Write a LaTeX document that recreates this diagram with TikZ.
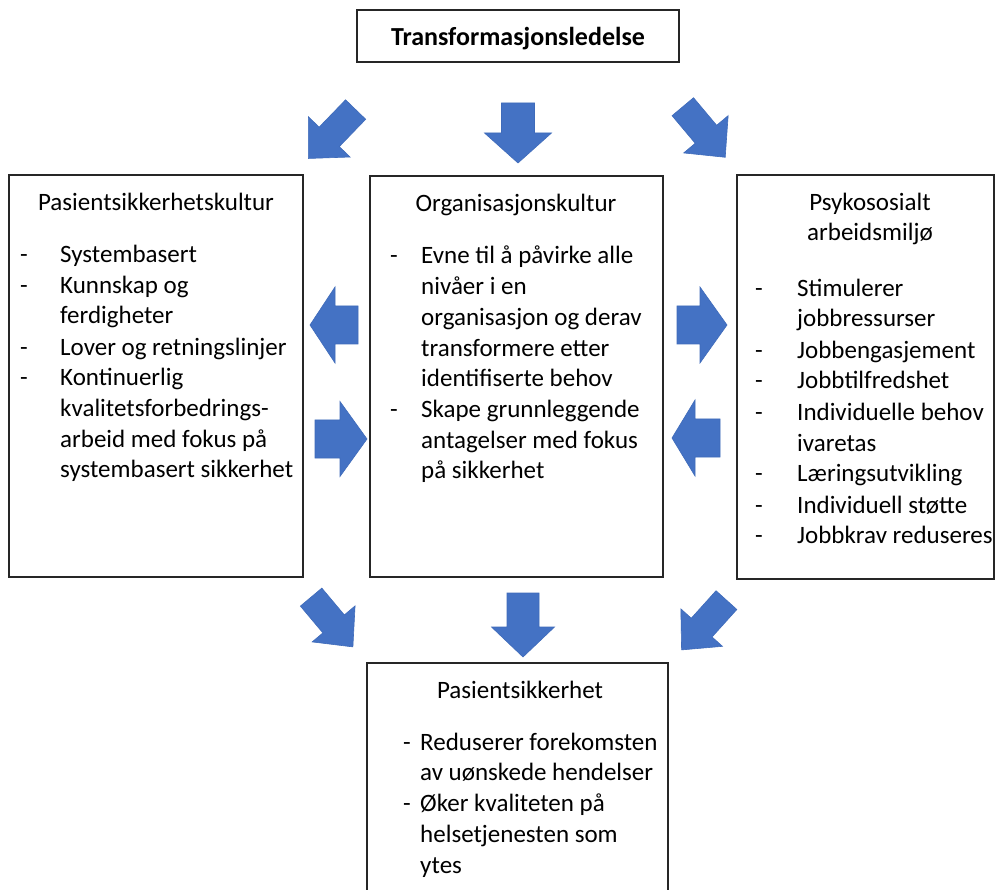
\documentclass[tikz,border=0pt]{standalone}
\usepackage{fontspec}
\setmainfont{Carlito}
\definecolor{arrowblue}{HTML}{4472C4}
\definecolor{arrowedge}{HTML}{3F6BBA}
\tikzset{
  box/.style={draw=black!85, line width=1.1pt},
  txt/.style={anchor=mid west, inner sep=0pt, yshift=-6pt, font=\fontsize{25}{31}\selectfont},
  headtxt/.style={anchor=mid, inner sep=0pt, yshift=-6pt, font=\fontsize{25}{31}\selectfont},
  titletxt/.style={anchor=mid, inner sep=0pt, yshift=-6pt, font=\fontsize{26}{31}\selectfont\bfseries},
  barrow/.style={fill=arrowblue, draw=arrowedge, line width=0.6pt}
}
% #1 cx, #2 cy, #3 angle, #4 length, #5 shaft width, #6 head width, #7 head length
\newcommand\blockarrow[7]{%
  \begin{scope}[shift={(#1,#2)}, rotate=#3]
    \path[barrow] ({-#4/2},{#5/2}) -- ({#4/2-#7},{#5/2}) -- ({#4/2-#7},{#6/2})
      -- ({#4/2},0) -- ({#4/2-#7},{-#6/2}) -- ({#4/2-#7},{-#5/2})
      -- ({-#4/2},{-#5/2}) -- cycle;
  \end{scope}}
\newcommand\tline[4]{\node[txt] (#1) at (#2,#3) {#4};}
\begin{document}
\begin{tikzpicture}[x=1pt,y=-1pt]
\useasboundingbox (0,0) rectangle (996,890);
\clip (0,0) rectangle (996,890);
\fill[white] (0,0) rectangle (996,890);

% boxes
\node[box, minimum width=322pt, minimum height=52pt, inner sep=0pt] (title) at (518,36) {};
\node[titletxt] (titlet) at (518,37) {Transformasjonsledelse};

\draw[box] (9,175) rectangle (303,577);
\node (lbox) at (156,376) {};
\draw[box] (370,176) rectangle (663,577);
\node (mbox) at (516,376) {};
\draw[box] (737,175) rectangle (994,579);
\node (rbox) at (865,377) {};
\draw[box] (367,663) rectangle (668,905);
\node (bbox) at (517,780) {};

% left box text
\node[headtxt] (lh) at (156,202) {Pasientsikkerhetskultur};
\node[txt] (l1d) at (20,254) {-};
\tline{l1}{60}{254}{Systembasert}
\node[txt] (l2d) at (20,285) {-};
\tline{l2}{60}{285}{Kunnskap og}
\tline{l3}{60}{315}{ferdigheter}
\node[txt] (l4d) at (20,347) {-};
\tline{l4}{60}{347}{Lover og retningslinjer}
\node[txt] (l5d) at (20,377) {-};
\tline{l5}{60}{377}{Kontinuerlig}
\tline{l6}{60}{408}{kvalitetsforbedrings-}
\tline{l7}{60}{439}{arbeid med fokus på}
\tline{l8}{60}{469}{systembasert sikkerhet}

% middle box text
\node[headtxt] (mh) at (516,203) {Organisasjonskultur};
\node[txt] (m1d) at (390,255) {-};
\tline{m1}{421}{255}{Evne til å påvirke alle}
\tline{m2}{421}{286}{nivåer i en}
\tline{m3}{421}{317}{organisasjon og derav}
\tline{m4}{421}{348}{transformere etter}
\tline{m5}{421}{378}{identifiserte behov}
\node[txt] (m6d) at (390,409) {-};
\tline{m6}{421}{409}{Skape grunnleggende}
\tline{m7}{421}{440}{antagelser med fokus}
\tline{m8}{421}{470}{på sikkerhet}

% right box text
\node[headtxt] (rh1) at (870,202) {Psykososialt};
\node[headtxt] (rh2) at (870,232) {arbeidsmiljø};
\node[txt] (r1d) at (755,288) {-};
\tline{r1}{797}{288}{Stimulerer}
\tline{r2}{797}{318}{jobbressurser}
\node[txt] (r3d) at (755,350) {-};
\tline{r3}{797}{350}{Jobbengasjement}
\node[txt] (r4d) at (755,380) {-};
\tline{r4}{797}{380}{Jobbtilfredshet}
\node[txt] (r5d) at (755,412) {-};
\tline{r5}{797}{412}{Individuelle behov}
\tline{r6}{797}{443}{ivaretas}
\node[txt] (r7d) at (755,473) {-};
\tline{r7}{797}{473}{Læringsutvikling}
\node[txt] (r8d) at (755,505) {-};
\tline{r8}{797}{505}{Individuell støtte}
\node[txt] (r9d) at (755,535) {-};
\tline{r9}{797}{535}{Jobbkrav reduseres}

% bottom box text
\node[headtxt] (bh) at (520,690) {Pasientsikkerhet};
\node[txt] (b1d) at (403,742) {-};
\tline{b1}{420}{742}{Reduserer forekomsten}
\tline{b2}{420}{772}{av uønskede hendelser}
\node[txt] (b3d) at (403,803) {-};
\tline{b3}{420}{803}{Øker kvaliteten på}
\tline{b4}{420}{834}{helsetjenesten som}
\tline{b5}{420}{865}{ytes}

% arrows from title
\blockarrow{518}{133}{-90}{60}{33}{67}{30}
\blockarrow{332}{134}{-134}{68}{28}{58}{30}
\blockarrow{704}{132}{-50}{66}{28}{58}{30}

% horizontal arrows
\blockarrow{334}{325}{180}{48}{38}{76}{25}
\blockarrow{341}{439}{0}{52}{38}{75}{27}
\blockarrow{702}{325}{0}{50}{38}{76}{27}
\blockarrow{696}{438}{180}{48}{38}{76}{23}

% arrows to bottom
\blockarrow{523}{625}{-90}{64}{32}{63}{30}
\blockarrow{332}{622}{-50}{65}{28}{56}{30}
\blockarrow{704}{625}{-132}{67}{28}{56}{30}
\end{tikzpicture}
\end{document}
